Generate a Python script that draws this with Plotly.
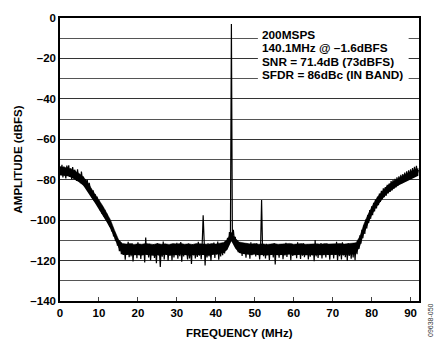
import plotly.graph_objects as go

# ---- data ----
FREQ_STEP_MHZ = 0.25
AMPLITUDE_DBFS = [
    -74.1, -77.8, -72.6, -78.9, -73.5, -76.2, -79.4, -73.0,
    -75.8, -72.9, -78.6, -74.4, -79.8, -73.7, -77.5, -75.1,
    -76.3, -80.6, -74.9, -79.2, -77.4, -81.7, -76.0, -80.1,
    -78.5, -83.2, -79.7, -82.4, -80.1, -85.0, -81.6, -84.3,
    -84.6, -88.9, -85.2, -90.3, -87.1, -91.6, -88.4, -92.5,
    -90.2, -95.1, -92.4, -96.8, -93.6, -98.2, -94.9, -99.4,
    -96.8, -101.3, -99.0, -103.2, -101.4, -105.6, -103.7, -108.0,
    -106.2, -110.4, -108.8, -112.6, -111.0, -115.3, -110.9, -116.8,
    -111.8, -117.2, -113.4, -119.6, -112.1, -116.5, -110.7, -118.3,
    -114.0, -117.9, -111.5, -120.4, -113.2, -116.1, -112.6, -118.8,
    -110.9, -117.3, -114.5, -119.2, -112.4, -116.8, -113.1, -120.9,
    -108.6, -117.0, -112.9, -118.5, -111.7, -119.8, -114.2, -116.4,
    -112.0, -118.7, -113.6, -121.3, -111.4, -117.5, -114.8, -123.2,
    -112.7, -118.1, -110.6, -119.4, -113.9, -116.9, -112.2, -120.1,
    -113.5, -117.6, -111.8, -119.9, -112.5, -118.4, -114.1, -117.2,
    -111.2, -119.1, -113.0, -117.8, -110.8, -120.6, -113.7, -118.0,
    -112.4, -116.7, -114.3, -119.5, -111.6, -118.9, -113.1, -121.7,
    -111.9, -117.4, -113.8, -119.0, -112.3, -118.2, -110.7, -117.6,
    -113.4, -119.3, -112.0, -97.6, -114.1, -122.4, -112.8, -118.5,
    -111.5, -117.9, -113.2, -120.2, -112.6, -116.8, -111.1, -118.7,
    -112.9, -117.1, -110.6, -119.6, -113.5, -118.0, -111.8, -117.3,
    -112.1, -116.5, -110.4, -114.9, -108.7, -112.3, -105.9, -108.2,
    -3.0, -107.4, -104.8, -109.6, -108.3, -113.1, -110.2, -115.8,
    -110.8, -116.2, -112.0, -117.7, -111.3, -115.9, -113.4, -118.6,
    -111.6, -116.7, -112.9, -119.1, -110.9, -117.3, -113.0, -116.4,
    -112.2, -118.0, -111.4, -116.6, -113.3, -119.4, -112.5, -90.0,
    -114.1, -117.8, -112.3, -118.9, -111.7, -116.3, -113.6, -119.7,
    -112.0, -117.2, -113.8, -118.4, -111.5, -121.9, -112.9, -117.0,
    -113.4, -118.6, -111.9, -116.9, -112.7, -119.3, -114.0, -117.5,
    -111.2, -118.2, -113.1, -116.4, -112.4, -119.8, -111.7, -117.7,
    -113.6, -117.1, -112.2, -118.8, -110.9, -116.6, -113.0, -119.2,
    -112.5, -117.6, -111.4, -118.3, -113.7, -116.2, -112.1, -119.5,
    -113.2, -118.1, -111.8, -117.4, -112.6, -120.3, -109.8, -117.9,
    -112.4, -118.7, -113.5, -116.8, -111.3, -119.0, -112.8, -117.3,
    -113.9, -118.4, -111.6, -117.0, -112.9, -119.6, -113.3, -116.5,
    -111.9, -118.9, -112.7, -117.2, -110.7, -120.0, -113.1, -117.8,
    -112.3, -119.4, -111.0, -117.5, -113.4, -118.3, -112.0, -120.2,
    -111.4, -117.7, -112.8, -119.1, -111.9, -118.5, -112.6, -119.8,
    -111.2, -116.9, -110.1, -114.3, -107.5, -111.6, -104.8, -108.9,
    -102.6, -106.8, -99.7, -104.1, -97.5, -101.4, -95.0, -99.3,
    -93.1, -97.6, -91.4, -95.7, -89.8, -94.2, -88.4, -92.6,
    -86.9, -91.0, -85.5, -89.6, -84.3, -88.7, -83.6, -87.9,
    -82.5, -86.8, -81.9, -86.1, -80.7, -85.3, -80.2, -84.4,
    -79.6, -83.8, -78.8, -83.0, -78.3, -82.1, -77.6, -81.7,
    -77.2, -81.0, -76.5, -80.6, -75.9, -79.8, -75.4, -79.2,
    -74.8, -78.9, -74.2, -78.1, -73.6, -77.7, -73.1, -77.0,
    -75.2,
]
FREQ_MHZ = [i * FREQ_STEP_MHZ for i in range(len(AMPLITUDE_DBFS))]

# dense core of the noise trace (solid black band), read per 1 MHz
CORE_FREQ_MHZ = list(range(0, 93))
CORE_TOP_DBFS = [
    -73.5, -73.8, -74.2, -74.8, -75.8, -77.0, -78.6, -81.0, -84.2, -87.0,
    -90.0, -93.0, -96.5, -100.0, -105.0, -109.5, -111.5, -111.8, -111.6, -112.0,
    -111.7, -111.9, -111.5, -111.8, -112.0, -111.6, -111.9, -111.7, -112.0, -111.6,
    -111.8, -111.5, -111.9, -111.7, -112.0, -111.6, -111.8, -111.7, -111.9, -111.6,
    -111.8, -111.4, -111.0, -109.5, -106.0, -109.0, -110.8, -111.2, -111.5, -111.8,
    -111.6, -111.9, -111.7, -112.0, -111.8, -111.6, -111.9, -111.7, -111.8, -111.5,
    -111.9, -111.7, -111.6, -111.9, -111.8, -111.5, -111.7, -111.9, -111.6, -111.8,
    -111.7, -111.9, -111.6, -111.8, -111.7, -111.5, -111.2, -108.0, -102.0, -97.5,
    -93.5, -90.0, -87.3, -85.0, -83.0, -81.5, -80.2, -79.0, -78.0, -77.0,
    -76.0, -75.0, -74.5,
]
CORE_BOTTOM_DBFS = [
    -77.8, -78.0, -78.3, -79.0, -80.0, -81.4, -83.0, -85.6, -88.8, -91.6,
    -94.6, -97.6, -101.0, -104.5, -109.0, -113.5, -117.0, -117.3, -117.1, -117.4,
    -117.2, -117.5, -117.1, -117.3, -117.6, -117.2, -117.4, -117.1, -117.5, -117.2,
    -117.4, -117.0, -117.3, -117.5, -117.2, -117.4, -117.1, -117.3, -117.5, -117.2,
    -117.0, -116.8, -116.3, -114.5, -110.5, -114.0, -116.2, -116.8, -117.1, -117.3,
    -117.0, -117.4, -117.2, -117.5, -117.3, -117.1, -117.4, -117.2, -117.3, -117.0,
    -117.4, -117.2, -117.1, -117.4, -117.3, -117.0, -117.2, -117.4, -117.1, -117.3,
    -117.2, -117.4, -117.1, -117.3, -117.2, -117.0, -116.6, -113.0, -107.0, -102.0,
    -97.8, -94.2, -91.3, -89.0, -87.0, -85.4, -84.0, -82.8, -81.8, -80.8,
    -79.8, -78.8, -78.0,
]

X_TICKS = [0, 10, 20, 30, 40, 50, 60, 70, 80, 90]
Y_TICKS = [0, -20, -40, -60, -80, -100, -120, -140]
Y_TICK_LABELS = ["0", "–20", "–40", "–60", "–80", "–100", "–120", "–140"]
INFO_LINES = ["200MSPS", "140.1MHz @ –1.6dBFS", "SNR = 71.4dB (73dBFS)", "SFDR = 86dBc (IN BAND)"]
INFO_LINE_Y_DB = [-8.2, -14.8, -21.8, -28.3]

FONT = "Liberation Sans, Arial, sans-serif"

fig = go.Figure()
fig.add_trace(go.Scatter(
    x=CORE_FREQ_MHZ, y=CORE_BOTTOM_DBFS, mode="lines",
    line=dict(color="black", width=0), hoverinfo="skip", showlegend=False,
))
fig.add_trace(go.Scatter(
    x=CORE_FREQ_MHZ, y=CORE_TOP_DBFS, mode="lines", fill="tonexty",
    fillcolor="black", line=dict(color="black", width=0.5),
    hoverinfo="skip", showlegend=False,
))
fig.add_trace(go.Scatter(
    x=FREQ_MHZ, y=AMPLITUDE_DBFS, mode="lines",
    line=dict(color="black", width=1.2), hoverinfo="skip", showlegend=False,
))

fig.update_layout(
    width=439, height=346,
    margin=dict(l=60, r=20, t=15, b=45),
    paper_bgcolor="white", plot_bgcolor="white",
    font=dict(family=FONT, size=11, color="black", weight="bold"),
    showlegend=False,
)
fig.update_xaxes(
    range=[0, 92.16], tickvals=X_TICKS, ticks="inside", ticklen=4, tickwidth=1,
    tickcolor="#444", showgrid=False, zeroline=False,
    showline=True, mirror=True, linecolor="black", linewidth=1.5,
    tickfont=dict(family=FONT, size=11.5, color="black", weight="bold"),
)
fig.update_yaxes(
    range=[-140, 0], tickvals=Y_TICKS, ticktext=Y_TICK_LABELS, ticks="",
    showgrid=True, gridcolor="#333", gridwidth=1, zeroline=False,
    minor=dict(dtick=10, showgrid=True, gridcolor="#555", gridwidth=1),
    showline=True, mirror=True, linecolor="black", linewidth=1.5,
    tickfont=dict(family=FONT, size=11.5, color="black", weight="bold"),
)

# white box behind the info text (covers the gridlines)
fig.add_shape(
    type="rect", xref="x", yref="y", x0=50.8, x1=89.5, y0=-2.5, y1=-33.0,
    fillcolor="white", line=dict(width=0), layer="between",
)
for line_text, y_db in zip(INFO_LINES, INFO_LINE_Y_DB):
    fig.add_annotation(
        xref="x", yref="y", x=51.4, y=y_db,
        xanchor="left", yanchor="middle", align="left",
        text=line_text, showarrow=False,
        font=dict(family=FONT, size=11.8, color="black", weight="bold"),
    )

fig.add_annotation(
    xref="paper", yref="paper", x=0.5, y=0, yshift=-32, yanchor="middle",
    text="FREQUENCY (MHz)", showarrow=False,
    font=dict(family=FONT, size=11.5, color="black", weight="bold"),
)
fig.add_annotation(
    xref="paper", yref="paper", x=0, xshift=-43, y=0.5, xanchor="center",
    text="AMPLITUDE (dBFS)", textangle=-90, showarrow=False,
    font=dict(family=FONT, size=11.5, color="black", weight="bold"),
)
fig.add_annotation(
    xref="paper", yref="paper", x=1, xshift=11, y=0, yshift=-19,
    xanchor="center", yanchor="middle",
    text="09638-050", textangle=-90, showarrow=False,
    font=dict(family=FONT, size=7, color="#333", weight="normal"),
)

fig.write_html("out.html")
